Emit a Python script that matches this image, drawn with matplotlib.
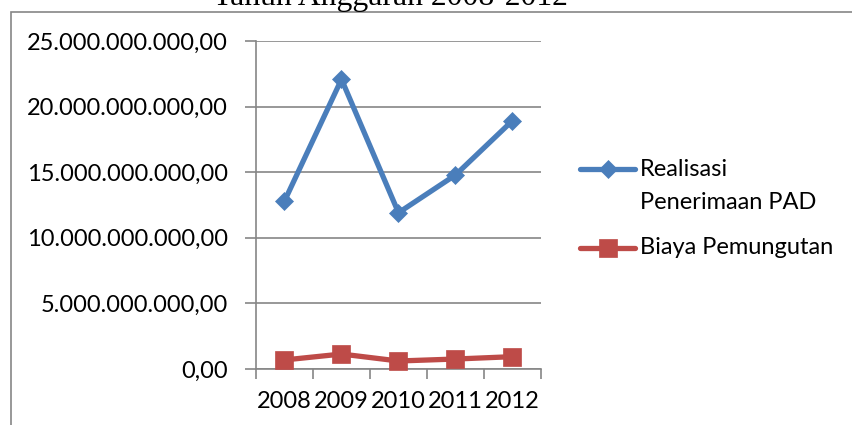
import matplotlib
matplotlib.use("Agg")
import matplotlib.pyplot as plt
from matplotlib.lines import Line2D
from matplotlib.patches import Rectangle
from matplotlib.ticker import FuncFormatter

# ------------------------------------------------------------------
# Data
# ------------------------------------------------------------------
years = ["2008", "2009", "2010", "2011", "2012"]
realisasi_pad = [12.80e9, 22.08e9, 11.91e9, 14.79e9, 18.93e9]
biaya_pemungutan = [0.69e9, 1.14e9, 0.61e9, 0.76e9, 0.94e9]
y_ticks = [0, 5e9, 10e9, 15e9, 20e9, 25e9]

W, H = 853, 425
BLUE = '#4A7EBB'
RED = '#BE4B48'
GREY = '#868686'

plt.rcParams['font.family'] = ['Lato', 'DejaVu Sans']


def rupiah(v, _pos):
    # 25000000000 -> 25.000.000.000,00
    s = f"{v:,.2f}"
    return s.replace(',', 'X').replace('.', ',').replace('X', '.')


fig = plt.figure(figsize=(W / 100, H / 100), dpi=100)
ax = fig.add_axes([256 / W, 1 - 369 / H, 285 / W, 328 / H])

x = [i + 0.5 for i in range(len(years))]
ax.plot(x, realisasi_pad, color=BLUE, lw=3.8, marker='D', ms=9.5, mew=0.5,
        solid_joinstyle='round', zorder=3, clip_on=False)
ax.plot(x, biaya_pemungutan, color=RED, lw=3.8, marker='s', ms=13.5, mew=0.5,
        solid_joinstyle='round', zorder=3, clip_on=False)

ax.set_xlim(0, len(years))
ax.set_ylim(0, 25e9)
ax.set_yticks(y_ticks)
ax.yaxis.set_major_formatter(FuncFormatter(rupiah))

# category boundaries get the tick marks, centres get the labels
ax.set_xticks(range(len(years) + 1))
ax.set_xticklabels([])
ax.set_xticks(x, minor=True)
ax.set_xticklabels(years, minor=True)
ax.tick_params(axis='x', which='minor', length=0, pad=16, labelsize=17)
ax.tick_params(axis='x', which='major', length=7, width=1.2, color=GREY)
ax.tick_params(axis='y', length=8, width=1.2, color=GREY, pad=12, labelsize=17)

ax.grid(axis='y', color=GREY, lw=1.2)
ax.set_axisbelow(True)
for s in ['top', 'right']:
    ax.spines[s].set_visible(False)
for s in ['left', 'bottom']:
    ax.spines[s].set_color(GREY)
    ax.spines[s].set_linewidth(1.2)

# outer chart border (runs off the right and bottom edges)
fig.add_artist(Rectangle((11 / W, -0.1), 1.0, 1.1 - 12 / H,
                         transform=fig.transFigure, fill=False,
                         ec=GREY, lw=1.2))

# title, mostly cut off at the top
fig.text(213 / W, 1 - 5.5 / H, 'Tahun Anggaran 2008-2012',
         family='Liberation Serif', fontsize=22.8, va='baseline', ha='left')

# legend, drawn by hand so the blue key sits on the first label line
def legend_key(y_px, color, marker, ms):
    y = 1 - y_px / H
    fig.add_artist(Line2D([580 / W, 607.5 / W, 635 / W], [y, y, y],
                          transform=fig.transFigure, color=color, lw=3.8,
                          marker=marker, ms=ms, mew=0.5, markevery=[1],
                          solid_capstyle='round'))

legend_key(169, BLUE, 'D', 9.5)
fig.text(640 / W, 1 - 169 / H, 'Realisasi', fontsize=17, va='center', ha='left')
fig.text(640 / W, 1 - 202 / H, 'Penerimaan PAD', fontsize=17, va='center', ha='left')
legend_key(248, RED, 's', 13.5)
fig.text(640 / W, 1 - 248 / H, 'Biaya Pemungutan', fontsize=17, va='center', ha='left')

fig.savefig('out.png', dpi=100)
